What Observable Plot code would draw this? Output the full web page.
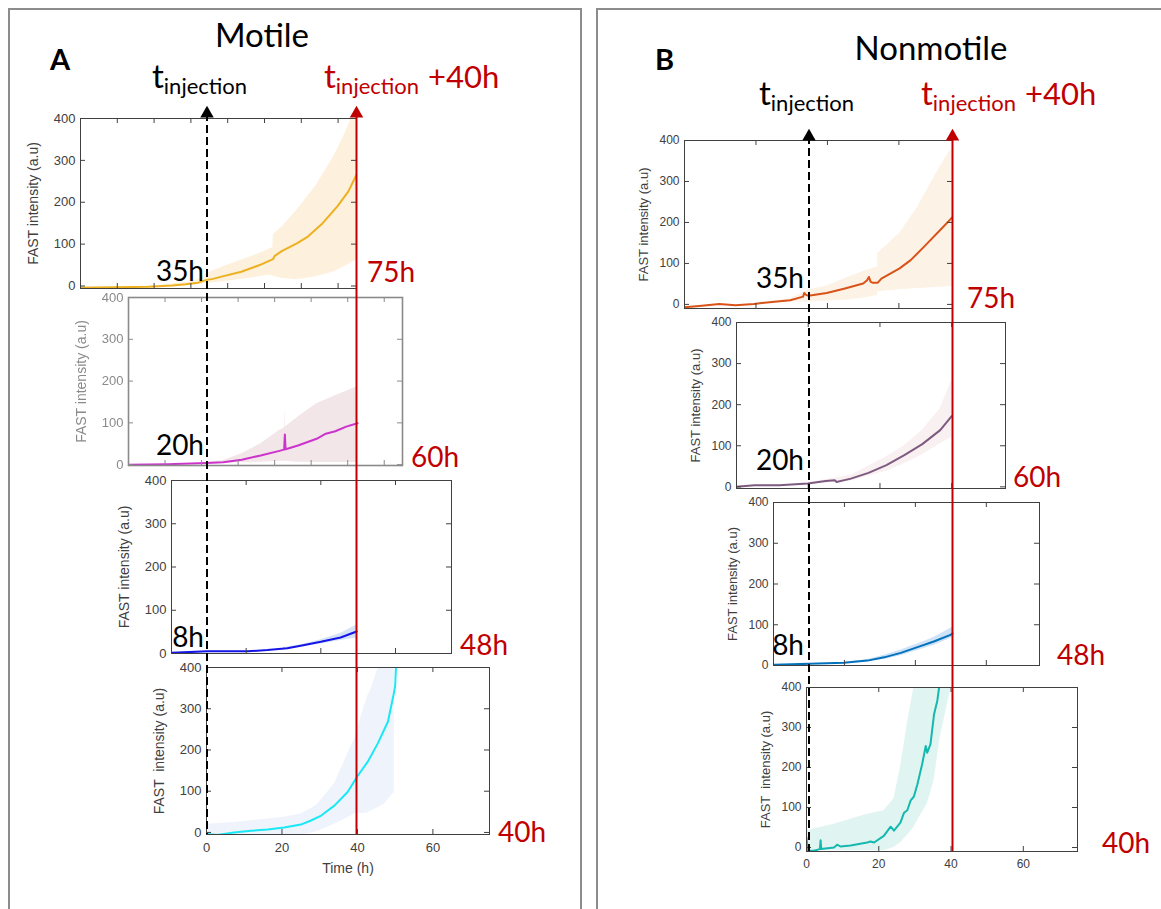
<!DOCTYPE html>
<html><head><meta charset="utf-8">
<script src="https://cdn.jsdelivr.net/npm/d3@7"></script>
<script src="https://cdn.jsdelivr.net/npm/@observablehq/plot@0.6"></script>
<style>
body{margin:0;background:#fff}
#root{position:relative;width:1161px;height:909px;overflow:hidden;background:#fff}
.box{position:absolute;border:2px solid #8c8c8c;box-sizing:border-box}
.abs{position:absolute}
</style></head><body><div id="root"></div>
<script>
// ---------- tick labels / axis limits ----------
const yTicks = [0, 100, 200, 300, 400];
const xTicks10 = [0, 10, 20, 30, 40, 50, 60, 70];
const xTicks20 = [0, 20, 40, 60];
const yMinA = [-6, -2, 0, -5];
const yMinB = [-10, -4, 0, -10];
const startLabels = ["35h", "20h", "8h"];
const endLabels = ["75h", "60h", "48h", "40h"];

// ---------- Panel A (Motile) : hours since start of imaging ----------
const a1_t = [0, 10, 18.5, 25, 28.6, 32, 34, 36, 38.6, 43.7, 48.7, 52.3, 52.8, 54.8, 58.8, 61.8, 65.8, 69.8, 72.8, 75];
const a1_v = [-4, -3, -2, 1, 4, 8, 14, 17, 23, 34, 50, 64, 72, 84, 102, 118, 150, 190, 226, 266];
const a1_bt = [0, 10, 20, 30, 32.7, 34.2, 38.8, 43.8, 48.8, 50.8, 52.3, 52.4, 52.8, 54.9, 58.9, 63.9, 68.9, 72, 73.5, 75];
const a1_lo = [-6, -5, -4, 2, 4, 6, 10, 16, 22, 26, 24, 24, 22, 18, 15, 22, 34, 48, 55, 62];
const a1_hi = [-2, -1, 0, 10, 18, 30, 46, 62, 78, 86, 92, 122, 126, 142, 182, 238, 310, 366, 398, 430];

const a2_t = [0, 10.7, 21.4, 25.9, 31, 36.2, 41.3, 42.6, 42.8, 43.0, 46.4, 51.5, 54, 56.6, 59.6, 62.7];
const a2_v = [0, 1, 4, 6, 12, 22, 33, 36, 72, 37, 46, 62, 74, 80, 91, 99];
const a2_bt = [21, 25.9, 31, 36.2, 41.3, 42.7, 42.8, 42.9, 46.4, 51.5, 56.6, 62.7];
const a2_lo = [2, 3, 5, 6, 8, 8, 8, 8, 6, 5, 5, 5];
const a2_hi = [6, 10, 26, 50, 82, 88, 138, 90, 114, 146, 165, 187];

const a3_t = [0, 9.6, 20.3, 25.7, 31, 34.6, 40, 45.3, 49.6];
const a3_v = [1.5, 5, 5, 8, 12, 18, 27, 37, 51];
const a3_bt = [30, 35, 40, 45.3, 49.6];
const a3_lo = [10, 15, 22, 30, 36];
const a3_hi = [14, 21, 32, 46, 66];

const a4_t = [0, 2.9, 7.3, 11.8, 16.2, 20.6, 25, 27.7, 30.4, 33.9, 37.4, 39.9, 42.7, 45.4, 48.1, 49.6, 50, 50.2];
const a4_v = [-4, -6, 0, 4, 7, 12, 19, 29, 41, 65, 98, 135, 171, 216, 269, 335, 355, 400];
const a4_bt = [0, 7.3, 20.6, 25, 28.6, 29.5, 33.9, 38.3, 39.2, 41, 42.7, 43.6, 45.4, 47.2, 49.8];
const a4_lo = [-6, -6, -7, -6, 0, 3, 20, 40, 45, 46, 47, 52, 60, 69, 98];
const a4_hi = [20, 24, 37, 45, 62, 69, 118, 208, 225, 282, 330, 347, 396, 420, 420];

// ---------- Panel B (Nonmotile) ----------
const b1_t = [0, 4.1, 9.7, 14.3, 19.4, 24.5, 29.6, 33.2, 33.5, 33.9, 34.7, 39.8, 44.9, 50, 51.1, 51.6, 52.1, 52.6, 54.1, 55.1, 60.2, 63.3, 67.4, 71.5, 75];
const b1_v = [-7, -4, 1, -2, 1, 6, 10, 19, 28, 24, 21, 28, 39, 51, 59, 67, 55, 53, 53, 63, 88, 108, 144, 181, 213];
const b1_bt = [24.5, 29.6, 34.7, 39.8, 44.9, 50, 54, 54.1, 60.2, 65.3, 70.4, 74, 75];
const b1_lo = [4, 6, 6, 8, 10, 15, 22, 31, 36, 39, 41, 43, 43];
const b1_hi = [8, 14, 35, 45, 63, 80, 92, 124, 173, 238, 319, 372, 380];

const b2_t = [0, 5, 11.9, 19.9, 24.9, 27.4, 27.9, 31.9, 36.8, 41.8, 46.8, 51.8, 56.8, 60];
const b2_v = [0, 4, 4, 8, 14, 16, 12, 20, 34, 53, 77, 104, 138, 172];
const b2_bt = [19.9, 31.9, 41.8, 46.8, 51.8, 56.8, 60];
const b2_lo = [6, 14, 38, 56, 78, 105, 120];
const b2_hi = [10, 28, 73, 100, 138, 190, 260];

const b3_t = [0, 10.1, 19.9, 26.5, 31.2, 35.9, 40.6, 45.2, 49.9, 50.5];
const b3_v = [1.6, 4, 6.5, 12, 20, 31, 45, 59, 75, 79];
const b3_bt = [19.9, 26.5, 31.2, 35.9, 40.6, 45.2, 50.5];
const b3_lo = [5, 9, 15, 24, 37, 49, 69];
const b3_hi = [8, 15, 25, 38, 53, 69, 94];

const b4_t = [0, 0.4, 2, 3.7, 3.9, 4.1, 7.6, 8.5, 9.4, 12.2, 16.8, 17.7, 18.7, 21.4, 23.3, 24.2, 26, 27, 27.9, 28.8, 29.7, 30.7, 32, 33, 33.4, 34.3, 35.3, 36.2, 36.7];
const b4_v = [25, -8, -8, -4, 18, -4, 0, 7, 2.5, 5, 12.5, 15, 12.5, 29, 52, 42, 62, 87, 93, 117, 127, 158, 208, 254, 237, 258, 333, 367, 400];
const b4_bt = [0, 7.6, 16.8, 21.4, 24.2, 26, 27.9, 29.7, 31.5, 33.4, 35.3, 37, 40];
const b4_lo = [-8, -8, -8, -8, 0, 12, 30, 50, 80, 108, 167, 275, 400];
const b4_hi = [42, 58, 83, 92, 121, 200, 308, 400, 420, 420, 420, 420, 420];

// ---------- colours ----------
const lineA = ["#EDB120", "#CC33CC", "#1515E6", "#19E8F5"];
const bandA = ["#FDF0DC", "#F3E6E9", "#D5E3F7", "#EFF3FB"];
const lineB = ["#D95319", "#7E5A80", "#0072BD", "#14B8AE"];
const bandB = ["#FDF2E6", "#F9F1F1", "#CFE2F6", "#E0F5F1"];
const RED = "#C00000";

// ---------- layout (page pixels) ----------
const framesA = [[80, 356, 118, 288], [128, 402, 297, 465], [171, 451, 480, 653], [206, 489, 667, 834]];
const framesB = [[684, 952, 140, 308], [736, 1005, 322, 488], [773, 1039, 502, 665], [806, 1077, 687, 851]];

const root = document.getElementById("root");
function box(l, t, w, h) {
  const d = document.createElement("div");
  d.className = "box";
  Object.assign(d.style, {left: l + "px", top: t + "px", width: w + "px", height: h + "px"});
  root.appendChild(d);
}
box(8, 8, 574, 1000);
box(596, 8, 700, 1000);

function place(el, l, t) {
  el.classList.add("abs");
  el.style.left = l + "px";
  el.style.top = t + "px";
  root.appendChild(el);
}

function subplot(s) {
  const [x0, x1, y0, y1] = s.frame;
  const W = x1 - x0, H = y1 - y0;
  const mL = 64, mR = 8, mT = 8, mB = s.xLabels ? 56 : 8;
  const line = s.t.map((t, i) => ({t, v: s.v[i]}));
  const band = s.bt.map((t, i) => ({t, lo: s.lo[i], hi: s.hi[i]}));
  const xT = s.xTicks;
  const marks = [
    Plot.areaY(band, {x: "t", y1: "lo", y2: "hi", fill: s.band, clip: true}),
    Plot.lineY(line, {x: "t", y: "v", stroke: s.color, strokeWidth: 2, clip: true}),
    Plot.tickY(yTicks, {y: d => d, insetRight: W - 5, stroke: s.ink}),
    Plot.tickY(yTicks, {y: d => d, insetLeft: W - 5, stroke: s.ink}),
    Plot.tickX(xT, {x: d => d, insetTop: H - 5, stroke: s.ink}),
    Plot.tickX(xT, {x: d => d, insetBottom: H - 5, stroke: s.ink}),
    Plot.frame({stroke: s.ink, strokeWidth: s.frameW}),
    Plot.axisY(yTicks, {tickSize: 0, tickPadding: 5, fontSize: s.tickFont, fill: s.ink, label: null}),
    Plot.text([s.ylabel], {text: d => d, frameAnchor: "left", textAnchor: "middle", lineAnchor: "middle", rotate: -90, dx: -s.labelOff, fontSize: s.labelFont, fill: s.ink})
  ];
  if (s.xLabels) {
    marks.push(Plot.axisX(xTicks20, {tickSize: 0, tickPadding: 8, fontSize: s.tickFont, fill: s.ink, label: null}));
    if (s.xTitle) marks.push(Plot.text([s.xTitle], {text: d => d, frameAnchor: "bottom", textAnchor: "middle", lineAnchor: "middle", dy: 34, fontSize: s.labelFont, fill: s.ink}));
  }
  const p = Plot.plot({
    width: W + mL + mR, height: H + mT + mB,
    marginLeft: mL, marginRight: mR, marginTop: mT, marginBottom: mB,
    x: {domain: [0, 75], axis: null},
    y: {domain: [s.ymin, 400], axis: null},
    style: {background: "transparent", overflow: "visible", fontFamily: "'Liberation Sans', Arial, sans-serif", color: s.ink, filter: s.blur ? "blur(0.5px)" : "none"},
    marks
  });
  place(p, x0 - mL, y0 - mT);
}

const seriesA = [[a1_t, a1_v, a1_bt, a1_lo, a1_hi], [a2_t, a2_v, a2_bt, a2_lo, a2_hi], [a3_t, a3_v, a3_bt, a3_lo, a3_hi], [a4_t, a4_v, a4_bt, a4_lo, a4_hi]];
const seriesB = [[b1_t, b1_v, b1_bt, b1_lo, b1_hi], [b2_t, b2_v, b2_bt, b2_lo, b2_hi], [b3_t, b3_v, b3_bt, b3_lo, b3_hi], [b4_t, b4_v, b4_bt, b4_lo, b4_hi]];

seriesA.forEach(([t, v, bt, lo, hi], i) => subplot({
  t, v, bt, lo, hi, frame: framesA[i], ymin: yMinA[i], color: lineA[i], band: bandA[i],
  ink: i === 1 ? "#8a8a8a" : "#404040", frameW: i === 1 ? 1.6 : 1, blur: i === 1,
  xTicks: i < 2 ? xTicks10 : xTicks20, xLabels: i === 3, xTitle: "Time (h)",
  ylabel: i === 3 ? "FAST  intensity (a.u)" : "FAST intensity (a.u)",
  tickFont: 13, labelFont: 14, labelOff: 47
}));
seriesB.forEach(([t, v, bt, lo, hi], i) => subplot({
  t, v, bt, lo, hi, frame: framesB[i], ymin: yMinB[i], color: lineB[i], band: bandB[i],
  ink: "#404040", frameW: 1, blur: false,
  xTicks: xTicks20, xLabels: i === 3, xTitle: null,
  ylabel: i === 3 ? "FAST  intensity (a.u)" : "FAST intensity (a.u)",
  tickFont: 12, labelFont: 13, labelOff: 41
}));

// ---------- injection reference lines (hours since injection: 0 and +40) ----------
const refHours = [0, 40];
function overlay(dashX, redX, top, bottom) {
  const p = Plot.plot({
    width: 1161, height: 909, marginTop: top, marginBottom: 909 - bottom, marginLeft: 0, marginRight: 0,
    x: {domain: [0, 40], range: [dashX, redX], axis: null},
    style: {background: "transparent", overflow: "visible"},
    marks: [
      Plot.ruleX([refHours[0]], {stroke: "#000", strokeWidth: 2, strokeDasharray: "8,4"}),
      Plot.ruleX([refHours[1]], {stroke: RED, strokeWidth: 2}),
      Plot.dot(refHours, {x: d => d, frameAnchor: "top", symbol: "triangle", r: 5, fill: d => d === 0 ? "#000" : RED, stroke: null})
    ]
  });
  p.style.pointerEvents = "none";
  place(p, 0, 0);
}
overlay(206.5, 356, 113, 834);
overlay(808.5, 952, 136, 851);

// ---------- annotations ----------
const svg = d3.create("svg").attr("width", 1161).attr("height", 909)
  .style("position", "absolute").style("left", "0px").style("top", "0px")
  .style("font-family", "Lato, 'Open Sans', sans-serif");
function txt(x, y, s, o = {}) {
  svg.append("text").attr("x", x).attr("y", y).text(s)
    .attr("font-size", o.size || 28).attr("fill", o.fill || "#000")
    .attr("text-anchor", o.anchor || "start").attr("font-weight", o.weight || "normal");
}
function tinj(x, y, fill, extra) {
  const t = svg.append("text").attr("x", x).attr("y", y).attr("fill", fill).attr("font-size", 33);
  t.append("tspan").text("t");
  t.append("tspan").attr("font-size", 22).attr("dy", 6).text("injection");
  if (extra) t.append("tspan").attr("font-size", 31).attr("dy", -6).attr("dx", 9).text(extra);
}
// Panel A
txt(50, 70, "A", {weight: "bold", size: 29});
txt(262, 47, "Motile", {anchor: "middle", size: 33});
tinj(152, 88, "#000");
tinj(324, 88, RED, "+40h");
// Panel B
txt(655, 70, "B", {weight: "bold", size: 29});
txt(931, 60, "Nonmotile", {anchor: "middle", size: 33});
tinj(759, 105, "#000");
tinj(921, 105, RED, "+40h");

const startBaseA = [281, 455, 647], startBaseB = [288, 470, 655];
startLabels.forEach((s, i) => { txt(204, startBaseA[i], s, {anchor: "end"}); txt(804, startBaseB[i], s, {anchor: "end"}); });
const endXA = [367, 411, 460, 498], endBaseA = [282, 467, 655, 842];
const endXB = [967, 1013, 1057, 1102], endBaseB = [308, 487, 665, 853];
endLabels.forEach((s, i) => { txt(endXA[i], endBaseA[i], s, {fill: RED}); txt(endXB[i], endBaseB[i], s, {fill: RED}); });
root.appendChild(svg.node());
</script></body></html>
